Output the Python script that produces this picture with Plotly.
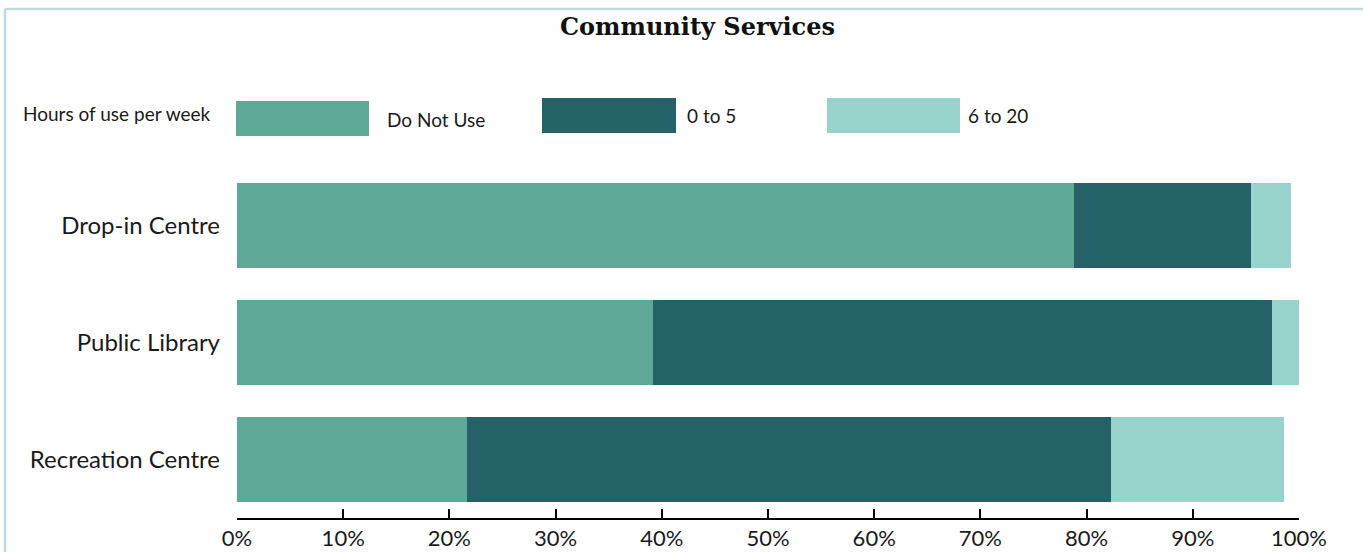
import plotly.graph_objects as go

# Survey results: share of respondents by weekly hours of use
categories = ["Drop-in Centre", "Public Library", "Recreation Centre"]
series_names = ["Do Not Use", "0 to 5", "6 to 20"]
do_not_use = [78.8, 39.2, 21.7]
zero_to_five = [16.7, 58.3, 60.6]
six_to_twenty = [3.7, 2.5, 16.3]
tick_values = [0, 10, 20, 30, 40, 50, 60, 70, 80, 90, 100]
tick_labels = ["0%", "10%", "20%", "30%", "40%", "50%", "60%", "70%", "80%", "90%", "100%"]
legend_title = "Hours of use per week"
chart_title = "Community Services"

colors = ["#5ea898", "#246267", "#98d3cb"]
values = [do_not_use, zero_to_five, six_to_twenty]

W, H = 1363, 552
L, R, T, B = 237, 64, 167, 34
plot_w = W - L - R
plot_h = H - T - B


def px(x):
    return (x - L) / plot_w


def py(y):
    return (H - B - y) / plot_h


fig = go.Figure()
for name, vals, col in zip(series_names, values, colors):
    fig.add_trace(go.Bar(
        y=categories, x=vals, name=name, orientation="h",
        marker=dict(color=col, line=dict(width=0)),
        showlegend=False,
    ))

text_font = "Lato, 'Open Sans', sans-serif"
text_color = "#1a1a1a"

shapes = []
annotations = []

# Custom legend row with wide swatches
swatches = [
    (236, 369, 101, 136, 385, 119),
    (542, 676, 98, 133, 685, 115),
    (827, 960, 98, 133, 966, 115),
]
for (x0, x1, y0, y1, tx, ty), name, col in zip(swatches, series_names, colors):
    shapes.append(dict(type="rect", xref="paper", yref="paper",
                       x0=px(x0), x1=px(x1), y0=py(y1), y1=py(y0),
                       fillcolor=col, line=dict(width=0), layer="above"))
    annotations.append(dict(text=name, xref="paper", yref="paper",
                            x=px(tx), y=py(ty), xanchor="left", yanchor="middle",
                            showarrow=False,
                            font=dict(family=text_font, size=19, color=text_color)))

annotations.append(dict(text=legend_title, xref="paper", yref="paper",
                        x=px(21), y=py(113), xanchor="left", yanchor="middle",
                        showarrow=False,
                        font=dict(family=text_font, size=19, color=text_color)))

annotations.append(dict(text="<b>" + chart_title + "</b>", xref="paper", yref="paper",
                        x=px(697), y=py(27), xanchor="center", yanchor="middle",
                        showarrow=False,
                        font=dict(family="'DejaVu Serif', serif",
                                  size=24, color="#111111")))

# Frame lines along the top and left edges
border = "#bcdbe3"
shapes.append(dict(type="line", xref="paper", yref="paper",
                   x0=px(5), x1=px(W + 5), y0=py(9), y1=py(9),
                   line=dict(color=border, width=2.5)))
shapes.append(dict(type="line", xref="paper", yref="paper",
                   x0=px(5), x1=px(5), y0=py(9), y1=py(H + 5),
                   line=dict(color=border, width=2.5)))

fig.update_layout(
    width=W, height=H,
    margin=dict(l=L, r=R, t=T, b=B, pad=0, autoexpand=False),
    paper_bgcolor="white", plot_bgcolor="white",
    barmode="stack", bargap=0.28,
    shapes=shapes, annotations=annotations,
    xaxis=dict(range=[0, 100], tickvals=tick_values, ticktext=tick_labels,
               showgrid=False, zeroline=False, automargin=False,
               showline=True, linecolor="#000000", linewidth=2,
               ticks="inside", ticklen=9, tickwidth=2, tickcolor="#000000",
               tickfont=dict(family=text_font, size=22, color=text_color),
               fixedrange=True),
    yaxis=dict(categoryorder="array", categoryarray=categories[::-1],
               showgrid=False, zeroline=False, showline=False, ticks="",
               automargin=False, ticklabelstandoff=16,
               tickfont=dict(family=text_font, size=24, color=text_color),
               fixedrange=True),
)

fig.write_html("out.html")
